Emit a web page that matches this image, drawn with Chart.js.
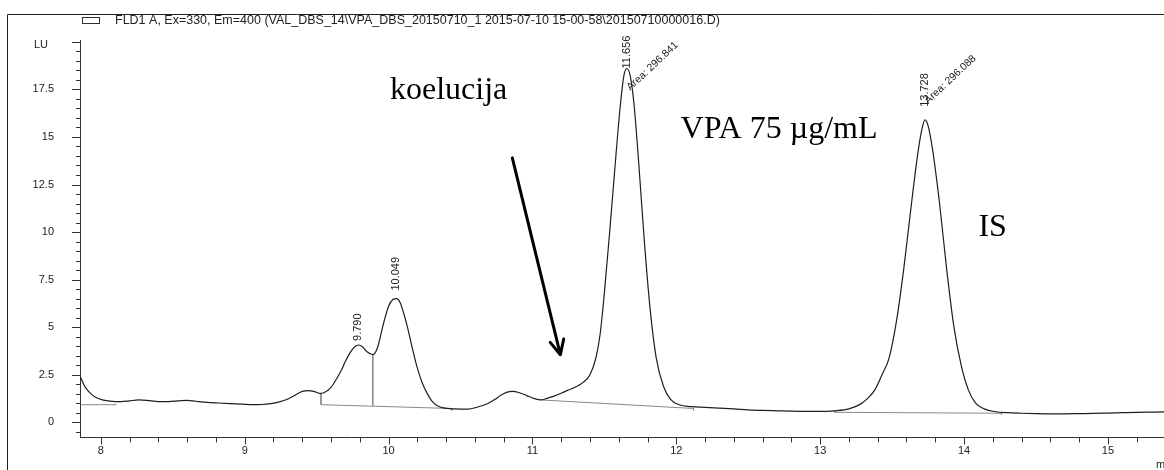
<!DOCTYPE html>
<html>
<head>
<meta charset="utf-8">
<script src="https://cdn.jsdelivr.net/npm/chart.js@4.4.1/dist/chart.umd.min.js"></script>
<style>
  html, body { margin: 0; padding: 0; background: #fff; }
  #wrap { position: relative; width: 1164px; height: 470px; }
</style>
</head>
<body>
<div id="wrap"><canvas id="chrom" width="1164" height="470"></canvas></div>
<script>
// DATA
const times = [
  7.86, 7.88, 7.90, 7.93, 7.96, 8.00, 8.04, 8.08, 8.14, 8.20, 8.26, 8.32, 8.40, 8.47, 8.54, 8.60,
  8.66, 8.74, 8.82, 8.90, 8.98, 9.06, 9.12, 9.18, 9.24, 9.30, 9.35, 9.40, 9.44, 9.48, 9.52, 9.55,
  9.60, 9.64, 9.67, 9.70, 9.736, 9.765, 9.794, 9.82, 9.85, 9.89, 9.92, 9.965, 10.00, 10.03, 10.055,
  10.08, 10.11, 10.13, 10.165, 10.20, 10.235, 10.27, 10.30, 10.33, 10.38, 10.46, 10.55, 10.62, 10.69,
  10.74, 10.78, 10.82, 10.86, 10.91, 10.96, 11.01, 11.06, 11.10, 11.15, 11.20, 11.24, 11.30, 11.35,
  11.40, 11.44, 11.47, 11.50, 11.54, 11.58, 11.61, 11.635, 11.656, 11.68, 11.705, 11.74, 11.78, 11.82,
  11.86, 11.91, 11.96, 12.02, 12.10, 12.20, 12.30, 12.40, 12.50, 12.60, 12.70, 12.80, 12.90, 13.00,
  13.10, 13.20, 13.28, 13.33, 13.38, 13.43, 13.48, 13.53, 13.58, 13.63, 13.68, 13.71, 13.728, 13.75,
  13.78, 13.83, 13.88, 13.93, 13.98, 14.03, 14.08, 14.14, 14.22, 14.30, 14.40, 14.50, 14.60, 14.70,
  14.80, 14.90, 15.00, 15.10, 15.20, 15.30, 15.39
];
const signal = [
  2.35, 2.0, 1.75, 1.5, 1.32, 1.2, 1.13, 1.09, 1.08, 1.12, 1.17, 1.15, 1.08, 1.08, 1.12, 1.15,
  1.10, 1.04, 1.01, 0.98, 0.95, 0.92, 0.93, 0.98, 1.07, 1.22, 1.42, 1.62, 1.66, 1.62, 1.52, 1.55,
  1.83, 2.3, 2.7, 3.2, 3.7, 3.97, 4.06, 3.95, 3.7, 3.55, 3.86, 5.2, 6.1, 6.45, 6.5,
  6.3, 5.6, 5.04, 3.9, 2.84, 2.05, 1.49, 1.12, 0.91, 0.75, 0.7, 0.69, 0.8, 0.98,
  1.2, 1.42, 1.57, 1.62, 1.55, 1.4, 1.25, 1.17, 1.25, 1.37, 1.52, 1.66, 1.85, 2.08,
  2.5, 3.35, 4.6, 6.8, 10.3, 14.0, 16.6, 18.2, 18.6, 18.2, 16.8, 13.5, 9.3, 5.8,
  3.4, 1.9, 1.2, 0.92, 0.82, 0.78, 0.74, 0.7, 0.65, 0.62, 0.6, 0.58, 0.57, 0.57,
  0.6, 0.7, 0.95, 1.25, 1.7, 2.5, 3.4, 5.3, 8.0, 11.2, 14.2, 15.5, 15.9, 15.6,
  14.4, 11.5, 8.0, 5.0, 3.0, 1.7, 1.0, 0.7, 0.55, 0.5, 0.47, 0.45, 0.44, 0.44,
  0.45, 0.46, 0.48, 0.5, 0.52, 0.53, 0.54
];

// integration baselines and drop lines: [time, LU]
const baseStart = [[7.86, 0.92], [8.11, 0.92]];
const baseCluster = [[9.53, 1.52], [9.53, 0.92], [10.44, 0.72], [10.44, 0.62]];
const dropCluster = [[9.89, 3.55], [9.89, 0.86]];
const baseVPA = [[11.06, 1.17], [12.12, 0.72], [12.12, 0.62]];
const baseIS = [[13.10, 0.62], [13.10, 0.52], [14.26, 0.47], [14.26, 0.40]];

// peaks
const peakTimes = [9.790, 10.049, 11.656, 13.728];
const peakHeights = [4.06, 6.5, 18.6, 15.9];
const peakLabels = ['9.790', '10.049', '11.656', '13.728'];
const areaLabels = ['', '', 'Area: 296.841', 'Area: 296.088'];

// axes
const xTicks = [8, 9, 10, 11, 12, 13, 14, 15];
const yTicks = [0, 2.5, 5, 7.5, 10, 12.5, 15, 17.5];

const LEGEND_TEXT = 'FLD1 A, Ex=330, Em=400 (VAL_DBS_14\\VPA_DBS_20150710_1 2015-07-10 15-00-58\\20150710000016.D)';

// hand-written notes on the figure: [text, time, LU]
const notes = [
  ['koelucija', 10.01, 17.0],
  ['VPA 75 \u00b5g/mL', 12.03, 14.95],
  ['IS', 14.10, 9.8]
];
const arrowFrom = [10.86, 13.9];
const arrowTo = [11.194, 3.55];

const INK = '#1e1e1e';
const AXIS = '#333333';
const BASE = '#8a8a8a';
const SANS = 'Arial, "Liberation Sans", sans-serif';
const SERIF = '"Times New Roman", "Liberation Serif", serif';
const LABEL_GAP = [4, 8, 0, 13];   // px between apex and retention-time label

const pts = arr => arr.map(p => ({ x: p[0], y: p[1] }));

const decor = {
  id: 'decor',
  afterDraw(chart) {
    const { ctx, scales: { x, y }, chartArea: ca } = chart;
    ctx.save();

    // frame of the printout
    ctx.strokeStyle = '#222';
    ctx.lineWidth = 1;
    ctx.beginPath();
    ctx.moveTo(7.5, 470); ctx.lineTo(7.5, 14.5); ctx.lineTo(1164, 14.5);
    ctx.stroke();

    // legend entry
    ctx.strokeStyle = '#333';
    ctx.strokeRect(82.5, 17.5, 17, 6);
    ctx.fillStyle = '#222';
    ctx.font = '12.5px ' + SANS;
    ctx.textAlign = 'left';
    ctx.textBaseline = 'middle';
    ctx.fillText(LEGEND_TEXT, 115, 21);

    // tick marks, major and minor
    ctx.strokeStyle = AXIS;
    ctx.beginPath();
    for (let v = -0.5; v <= 20.01; v += 0.5) {
      const py = Math.round(y.getPixelForValue(v)) + 0.5;
      const major = Math.abs(v / 2.5 - Math.round(v / 2.5)) < 1e-6;
      ctx.moveTo(ca.left, py); ctx.lineTo(ca.left - (major ? 8 : 4), py);
    }
    for (let v = 8; v <= x.max; v += 0.2) {
      const px = Math.round(x.getPixelForValue(v)) + 0.5;
      const major = Math.abs(v - Math.round(v)) < 1e-6;
      ctx.moveTo(px, ca.bottom); ctx.lineTo(px, ca.bottom + (major ? 7 : 5));
    }
    ctx.stroke();

    // axis units
    ctx.fillStyle = '#222';
    ctx.font = '11px ' + SANS;
    ctx.textAlign = 'left';
    ctx.textBaseline = 'middle';
    ctx.fillText('LU', 34, 45);
    ctx.textBaseline = 'top';
    ctx.fillText('min', 1156, 459);

    // peak retention times and areas
    peakTimes.forEach((t, i) => {
      const px = x.getPixelForValue(t);
      const py = y.getPixelForValue(peakHeights[i]);
      ctx.save();
      ctx.font = '11px ' + SANS;
      ctx.translate(px, py - LABEL_GAP[i]);
      ctx.rotate(-Math.PI / 2);
      ctx.textAlign = 'left';
      ctx.textBaseline = 'middle';
      ctx.fillText(peakLabels[i], 0, 0);
      ctx.restore();
      if (areaLabels[i]) {
        ctx.save();
        const dy = i === 2 ? 24 : -14;
        ctx.translate(px + 5, py + dy);
        ctx.rotate(-43 * Math.PI / 180);
        ctx.textAlign = 'left';
        ctx.textBaseline = 'bottom';
        ctx.font = '10.5px ' + SANS;
        ctx.fillText(areaLabels[i], 0, 0);
        ctx.restore();
      }
    });

    // handwritten notes
    ctx.fillStyle = '#000';
    ctx.font = '32px ' + SERIF;
    ctx.textAlign = 'left';
    ctx.textBaseline = 'alphabetic';
    notes.forEach(n => ctx.fillText(n[0], x.getPixelForValue(n[1]), y.getPixelForValue(n[2])));

    // arrow
    const ax0 = x.getPixelForValue(arrowFrom[0]), ay0 = y.getPixelForValue(arrowFrom[1]);
    const ax1 = x.getPixelForValue(arrowTo[0]), ay1 = y.getPixelForValue(arrowTo[1]);
    const ang = Math.atan2(ay1 - ay0, ax1 - ax0);
    ctx.strokeStyle = '#000';
    ctx.lineWidth = 3;
    ctx.lineCap = 'round';
    ctx.lineJoin = 'round';
    ctx.beginPath();
    ctx.moveTo(ax0, ay0); ctx.lineTo(ax1, ay1);
    ctx.moveTo(ax1 - 16 * Math.cos(ang - 0.45), ay1 - 16 * Math.sin(ang - 0.45));
    ctx.lineTo(ax1, ay1);
    ctx.lineTo(ax1 - 16 * Math.cos(ang + 0.45), ay1 - 16 * Math.sin(ang + 0.45));
    ctx.stroke();

    ctx.restore();
  }
};

const baseStyle = { borderColor: BASE, borderWidth: 1, pointRadius: 0, tension: 0, fill: false };

new Chart(document.getElementById('chrom'), {
  type: 'line',
  data: {
    datasets: [
      { data: times.map((t, i) => ({ x: t, y: signal[i] })), borderColor: INK, borderWidth: 1.2,
        pointRadius: 0, cubicInterpolationMode: 'monotone', fill: false, order: 0 },
      { ...baseStyle, data: pts(baseStart) },
      { ...baseStyle, data: pts(baseCluster) },
      { ...baseStyle, data: pts(dropCluster) },
      { ...baseStyle, data: pts(baseVPA) },
      { ...baseStyle, data: pts(baseIS) }
    ]
  },
  options: {
    responsive: false,
    animation: false,
    devicePixelRatio: 1,
    layout: { padding: { top: 40, left: 0, right: 0, bottom: 0 } },
    plugins: { legend: { display: false }, tooltip: { enabled: false } },
    scales: {
      x: {
        type: 'linear', min: 7.855, max: 15.39,
        grid: { display: false, drawTicks: false },
        border: { display: true, color: AXIS, width: 1 },
        afterBuildTicks: s => { s.ticks = xTicks.map(v => ({ value: v })); },
        afterFit: s => { s.height = 18; },
        ticks: { color: '#222', font: { family: SANS, size: 11 }, padding: 7, maxRotation: 0,
                 callback: v => String(v) }
      },
      y: {
        type: 'linear', min: -0.8, max: 20.1,
        grid: { display: false, drawTicks: false },
        border: { display: true, color: AXIS, width: 1 },
        afterBuildTicks: s => { s.ticks = yTicks.map(v => ({ value: v })); },
        afterFit: s => { s.width = 80; },
        ticks: { color: '#222', font: { family: SANS, size: 11 }, padding: 26,
                 callback: v => String(v) }
      }
    }
  },
  plugins: [decor]
});
</script>
</body>
</html>
